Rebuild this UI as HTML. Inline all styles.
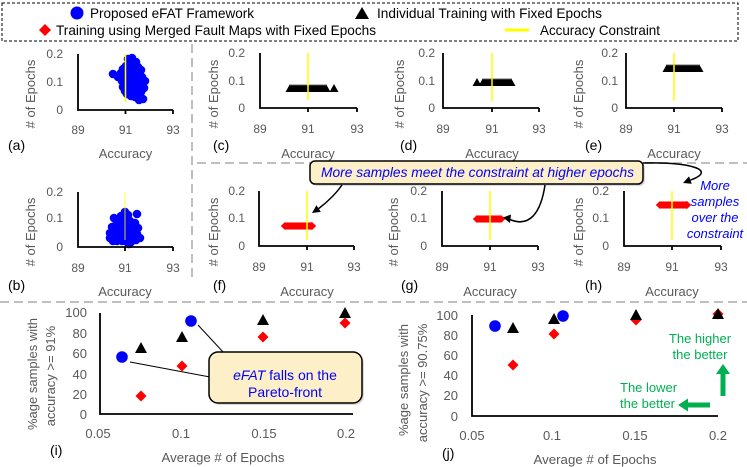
<!DOCTYPE html>
<html><head><meta charset="utf-8"><style>
html,body{margin:0;padding:0;background:#fff;}
svg{display:block;}
text{font-family:"Liberation Sans",sans-serif;}
.tk{font-size:12px;fill:#595959;}
.tk2{font-size:13px;fill:#595959;}
.ttl{font-size:13px;fill:#595959;}
.pl{font-size:14px;fill:#000;}
.ax{stroke:#000;stroke-width:1.8;fill:none;}
.sep{stroke:#bfbfbf;stroke-width:2;stroke-dasharray:9,5;fill:none;}
.yl{stroke:#ffff00;stroke-width:1.5;}
</style></head><body>
<svg width="747" height="467" viewBox="0 0 747 467" xmlns="http://www.w3.org/2000/svg">
<defs>
<path id="tri" d="M-4.5,4 L4.5,4 L0,-4Z" fill="#000"/>
<path id="dia" d="M0,-4 L4.2,0 L0,4 L-4.2,0Z" fill="#ff0000"/>
<path id="btri" d="M-6,5 L6,5 L0,-6Z" fill="#000"/>
<path id="bdia" d="M0,-5.5 L5.5,0 L0,5.5 L-5.5,0Z" fill="#ff0000"/>
</defs>

<!-- Legend -->
<rect x="2" y="3" width="736" height="38" fill="none" stroke="#000" stroke-width="1" stroke-dasharray="3,2"/>
<circle cx="77" cy="13" r="6.5" fill="#0000ff"/>
<text x="90" y="18" font-size="14" textLength="164" lengthAdjust="spacingAndGlyphs">Proposed eFAT Framework</text>
<path d="M355,19 L369,19 L362,7Z" fill="#000"/>
<text x="377" y="18" font-size="14" textLength="225" lengthAdjust="spacingAndGlyphs">Individual Training with Fixed Epochs</text>
<path d="M45,24 L51,30 L45,36 L39,30Z" fill="#ff0000"/>
<text x="56" y="35" font-size="14" textLength="320" lengthAdjust="spacingAndGlyphs">Training using Merged Fault Maps with Fixed Epochs</text>
<line x1="505" y1="30" x2="529" y2="30" stroke="#ffff00" stroke-width="3"/>
<text x="540" y="35" font-size="14" textLength="120" lengthAdjust="spacingAndGlyphs">Accuracy Constraint</text>

<!-- separators -->
<line class="sep" x1="192" y1="44" x2="192" y2="278"/>
<line class="sep" x1="197" y1="163" x2="747" y2="163"/>
<line class="sep" x1="0" y1="302" x2="747" y2="302"/>

<!-- Panel a -->
<g>
<g fill="#0000ff">
<circle cx="128" cy="59" r="4.3"/><circle cx="132" cy="58" r="4.3"/><circle cx="136" cy="62" r="4.3"/><circle cx="130" cy="63" r="4.3"/><circle cx="126" cy="66" r="4.3"/><circle cx="133" cy="66" r="4.3"/><circle cx="138" cy="67" r="4.3"/><circle cx="141" cy="70" r="4.3"/>
<circle cx="113" cy="74" r="4.3"/><circle cx="118" cy="77" r="4.3"/><circle cx="121" cy="73" r="4.3"/>
<circle cx="123" cy="69" r="4.3"/><circle cx="126" cy="71" r="4.3"/><circle cx="129" cy="70" r="4.3"/><circle cx="133" cy="72" r="4.3"/><circle cx="138" cy="74" r="4.3"/><circle cx="142" cy="77" r="4.3"/><circle cx="145" cy="81" r="4.3"/>
<circle cx="122" cy="81" r="4.3"/><circle cx="125" cy="78" r="4.3"/><circle cx="128" cy="76" r="4.3"/><circle cx="132" cy="78" r="4.3"/><circle cx="136" cy="80" r="4.3"/><circle cx="140" cy="84" r="4.3"/><circle cx="144" cy="88" r="4.3"/>
<circle cx="123" cy="87" r="4.3"/><circle cx="126" cy="84" r="4.3"/><circle cx="130" cy="84" r="4.3"/><circle cx="134" cy="86" r="4.3"/><circle cx="138" cy="89" r="4.3"/>
<circle cx="125" cy="91" r="4.3"/><circle cx="129" cy="90" r="4.3"/><circle cx="132" cy="92" r="4.3"/><circle cx="136" cy="93" r="4.3"/><circle cx="141" cy="92" r="4.3"/>
<circle cx="131" cy="96" r="4.3"/><circle cx="135" cy="97" r="4.3"/><circle cx="139" cy="100" r="4.3"/><circle cx="143" cy="99" r="4.3"/><circle cx="127" cy="94" r="4.3"/>
</g>
<line class="yl" x1="125.5" y1="54" x2="125.5" y2="102"/>
<path class="ax" d="M78,54 L78,110 L173,110 M125.5,110 L125.5,114 M173,110 L173,114"/>
<text class="tk" x="63" y="58" text-anchor="end">0.2</text>
<text class="tk" x="63" y="86" text-anchor="end">0.1</text>
<text class="tk" x="63" y="114" text-anchor="end">0</text>
<text class="tk" x="78" y="134" text-anchor="middle">89</text>
<text class="tk" x="125.5" y="134" text-anchor="middle">91</text>
<text class="tk" x="173" y="134" text-anchor="middle">93</text>
<text class="ttl" transform="translate(35,94) rotate(-90)" text-anchor="middle">#&#160;of Epochs</text>
<text class="pl" x="8" y="150">(a)</text>
<text class="ttl" x="125.5" y="158" text-anchor="middle">Accuracy</text>
</g>

<!-- Panel c -->
<g>
<g>
<use href="#tri" x="290" y="88"/><use href="#tri" x="292" y="88"/><use href="#tri" x="294" y="88"/><use href="#tri" x="296" y="88"/><use href="#tri" x="298" y="88"/><use href="#tri" x="300" y="88"/><use href="#tri" x="302" y="88"/><use href="#tri" x="304" y="88"/><use href="#tri" x="306" y="88"/><use href="#tri" x="308" y="88"/><use href="#tri" x="310" y="88"/><use href="#tri" x="312" y="88"/><use href="#tri" x="314" y="88"/><use href="#tri" x="316" y="88"/><use href="#tri" x="318" y="88"/><use href="#tri" x="320" y="88"/><use href="#tri" x="322" y="88"/><use href="#tri" x="324" y="88"/><use href="#tri" x="326" y="88"/><use href="#tri" x="334" y="88"/>
</g>
<line class="yl" x1="308" y1="53" x2="308" y2="100"/>
<path class="ax" d="M260,53 L260,108 L357,108 M308,108 L308,112 M357,108 L357,112"/>
<text class="tk" x="245" y="57" text-anchor="end">0.2</text>
<text class="tk" x="245" y="85" text-anchor="end">0.1</text>
<text class="tk" x="245" y="112" text-anchor="end">0</text>
<text class="tk" x="260" y="133" text-anchor="middle">89</text>
<text class="tk" x="308" y="133" text-anchor="middle">91</text>
<text class="tk" x="357" y="133" text-anchor="middle">93</text>
<text class="ttl" transform="translate(218,94) rotate(-90)" text-anchor="middle">#&#160;of Epochs</text>
<text class="pl" x="213" y="150">(c)</text>
<text class="ttl" x="308" y="158" text-anchor="middle">Accuracy</text>
</g>

<!-- Panel d -->
<g>
<g>
<use href="#tri" x="477" y="82"/><use href="#tri" x="483" y="82"/><use href="#tri" x="485" y="82"/><use href="#tri" x="487" y="82"/><use href="#tri" x="489" y="82"/><use href="#tri" x="491" y="82"/><use href="#tri" x="493" y="82"/><use href="#tri" x="495" y="82"/><use href="#tri" x="497" y="82"/><use href="#tri" x="499" y="82"/><use href="#tri" x="501" y="82"/><use href="#tri" x="503" y="82"/><use href="#tri" x="505" y="82"/><use href="#tri" x="507" y="82"/><use href="#tri" x="509" y="82"/><use href="#tri" x="511" y="82"/>
</g>
<line class="yl" x1="492" y1="53" x2="492" y2="101"/>
<path class="ax" d="M443,53 L443,108 L539,108 M492,108 L492,112 M539,108 L539,112"/>
<text class="tk" x="435" y="57" text-anchor="end">0.2</text>
<text class="tk" x="435" y="85" text-anchor="end">0.1</text>
<text class="tk" x="435" y="112" text-anchor="end">0</text>
<text class="tk" x="443" y="133" text-anchor="middle">89</text>
<text class="tk" x="492" y="133" text-anchor="middle">91</text>
<text class="tk" x="539" y="133" text-anchor="middle">93</text>
<text class="ttl" transform="translate(404,94) rotate(-90)" text-anchor="middle">#&#160;of Epochs</text>
<text class="pl" x="400" y="150">(d)</text>
<text class="ttl" x="492" y="158" text-anchor="middle">Accuracy</text>
</g>

<!-- Panel e -->
<g>
<g>
<use href="#tri" x="667" y="68"/><use href="#tri" x="669" y="68"/><use href="#tri" x="671" y="68"/><use href="#tri" x="673" y="68"/><use href="#tri" x="675" y="68"/><use href="#tri" x="677" y="68"/><use href="#tri" x="679" y="68"/><use href="#tri" x="681" y="68"/><use href="#tri" x="683" y="68"/><use href="#tri" x="685" y="68"/><use href="#tri" x="687" y="68"/><use href="#tri" x="689" y="68"/><use href="#tri" x="691" y="68"/><use href="#tri" x="693" y="68"/><use href="#tri" x="695" y="68"/><use href="#tri" x="697" y="68"/><use href="#tri" x="699" y="68"/>
</g>
<line class="yl" x1="674" y1="53" x2="674" y2="101"/>
<path class="ax" d="M626,53 L626,108 L722,108 M674,108 L674,112 M722,108 L722,112"/>
<text class="tk" x="618" y="57" text-anchor="end">0.2</text>
<text class="tk" x="618" y="85" text-anchor="end">0.1</text>
<text class="tk" x="618" y="112" text-anchor="end">0</text>
<text class="tk" x="626" y="133" text-anchor="middle">89</text>
<text class="tk" x="674" y="133" text-anchor="middle">91</text>
<text class="tk" x="722" y="133" text-anchor="middle">93</text>
<text class="ttl" transform="translate(583,94) rotate(-90)" text-anchor="middle">#&#160;of Epochs</text>
<text class="pl" x="585" y="150">(e)</text>
<text class="ttl" x="674" y="158" text-anchor="middle">Accuracy</text>
</g>

<!-- Panel b -->
<g>
<g fill="#0000ff">
<circle cx="125" cy="212" r="4.3"/><circle cx="121" cy="216" r="4.3"/><circle cx="128" cy="215" r="4.3"/><circle cx="114" cy="218" r="4.3"/><circle cx="137" cy="214" r="4.3"/><circle cx="119" cy="221" r="4.3"/><circle cx="124" cy="220" r="4.3"/><circle cx="130" cy="221" r="4.3"/>
<circle cx="112" cy="227" r="4.3"/><circle cx="116" cy="225" r="4.3"/><circle cx="121" cy="225" r="4.3"/><circle cx="126" cy="224" r="4.3"/><circle cx="131" cy="225" r="4.3"/><circle cx="135" cy="223" r="4.3"/><circle cx="138" cy="228" r="4.3"/>
<circle cx="110" cy="233" r="4.3"/><circle cx="114" cy="231" r="4.3"/><circle cx="119" cy="231" r="4.3"/><circle cx="124" cy="230" r="4.3"/><circle cx="129" cy="230" r="4.3"/><circle cx="133" cy="231" r="4.3"/><circle cx="137" cy="234" r="4.3"/><circle cx="140" cy="238" r="4.3"/>
<circle cx="110" cy="238" r="4.3"/><circle cx="114" cy="237" r="4.3"/><circle cx="118" cy="236" r="4.3"/><circle cx="123" cy="236" r="4.3"/><circle cx="128" cy="236" r="4.3"/><circle cx="132" cy="237" r="4.3"/><circle cx="136" cy="240" r="4.3"/>
<circle cx="113" cy="241" r="4.3"/><circle cx="117" cy="241" r="4.3"/><circle cx="122" cy="241" r="4.3"/><circle cx="127" cy="242" r="4.3"/><circle cx="131" cy="242" r="4.3"/><circle cx="129" cy="244" r="4.3"/>
</g>
<line x1="125" y1="192" x2="125" y2="240" stroke="#ffff00" stroke-width="1.5" opacity="0.55"/>
<path class="ax" d="M78,192 L78,247 L173,247 M125,247 L125,251 M173,247 L173,251"/>
<text class="tk" x="63" y="196" text-anchor="end">0.2</text>
<text class="tk" x="63" y="222" text-anchor="end">0.1</text>
<text class="tk" x="63" y="251" text-anchor="end">0</text>
<text class="tk" x="78" y="272" text-anchor="middle">89</text>
<text class="tk" x="125" y="272" text-anchor="middle">91</text>
<text class="tk" x="173" y="272" text-anchor="middle">93</text>
<text class="ttl" transform="translate(35,232) rotate(-90)" text-anchor="middle">#&#160;of Epochs</text>
<text class="pl" x="8" y="290">(b)</text>
<text class="ttl" x="125" y="296" text-anchor="middle">Accuracy</text>
</g>

<!-- Panel f -->
<g>
<g>
<use href="#dia" x="285" y="226"/><use href="#dia" x="287" y="226"/><use href="#dia" x="289" y="226"/><use href="#dia" x="291" y="226"/><use href="#dia" x="293" y="226"/><use href="#dia" x="295" y="226"/><use href="#dia" x="297" y="226"/><use href="#dia" x="299" y="226"/><use href="#dia" x="301" y="226"/><use href="#dia" x="303" y="226"/><use href="#dia" x="305" y="226"/><use href="#dia" x="307" y="226"/><use href="#dia" x="309" y="226"/><use href="#dia" x="311" y="226"/><use href="#dia" x="312" y="226"/>
</g>
<line class="yl" x1="307" y1="191" x2="307" y2="240"/>
<path class="ax" d="M259,191 L259,246 L354,246 M307,246 L307,250 M354,246 L354,250"/>
<text class="tk" x="245" y="195" text-anchor="end">0.2</text>
<text class="tk" x="245" y="222" text-anchor="end">0.1</text>
<text class="tk" x="245" y="250" text-anchor="end">0</text>
<text class="tk" x="259" y="271" text-anchor="middle">89</text>
<text class="tk" x="307" y="271" text-anchor="middle">91</text>
<text class="tk" x="354" y="271" text-anchor="middle">93</text>
<text class="ttl" transform="translate(218,232) rotate(-90)" text-anchor="middle">#&#160;of Epochs</text>
<text class="pl" x="213" y="290">(f)</text>
<text class="ttl" x="307" y="296" text-anchor="middle">Accuracy</text>
</g>

<!-- Panel g -->
<g>
<g>
<use href="#dia" x="477" y="219"/><use href="#dia" x="479" y="219"/><use href="#dia" x="481" y="219"/><use href="#dia" x="483" y="219"/><use href="#dia" x="485" y="219"/><use href="#dia" x="487" y="219"/><use href="#dia" x="489" y="219"/><use href="#dia" x="491" y="219"/><use href="#dia" x="493" y="219"/><use href="#dia" x="495" y="219"/><use href="#dia" x="497" y="219"/><use href="#dia" x="499" y="219"/><use href="#dia" x="501" y="219"/>
</g>
<line class="yl" x1="490" y1="191" x2="490" y2="240"/>
<path class="ax" d="M442,191 L442,246 L538,246 M490,246 L490,250 M538,246 L538,250"/>
<text class="tk" x="427" y="195" text-anchor="end">0.2</text>
<text class="tk" x="427" y="222" text-anchor="end">0.1</text>
<text class="tk" x="427" y="250" text-anchor="end">0</text>
<text class="tk" x="442" y="271" text-anchor="middle">89</text>
<text class="tk" x="490" y="271" text-anchor="middle">91</text>
<text class="tk" x="538" y="271" text-anchor="middle">93</text>
<text class="ttl" transform="translate(398,232) rotate(-90)" text-anchor="middle">#&#160;of Epochs</text>
<text class="pl" x="401" y="290">(g)</text>
<text class="ttl" x="490" y="296" text-anchor="middle">Accuracy</text>
</g>

<!-- Panel h -->
<g>
<g>
<use href="#dia" x="660" y="205"/><use href="#dia" x="662" y="205"/><use href="#dia" x="664" y="205"/><use href="#dia" x="666" y="205"/><use href="#dia" x="668" y="205"/><use href="#dia" x="670" y="205"/><use href="#dia" x="672" y="205"/><use href="#dia" x="674" y="205"/><use href="#dia" x="676" y="205"/><use href="#dia" x="678" y="205"/><use href="#dia" x="680" y="205"/><use href="#dia" x="682" y="205"/><use href="#dia" x="684" y="205"/><use href="#dia" x="686" y="205"/><use href="#dia" x="687" y="205"/>
</g>
<line class="yl" x1="672" y1="191" x2="672" y2="240"/>
<path class="ax" d="M624,191 L624,246 L721,246 M672,246 L672,250 M721,246 L721,250"/>
<text class="tk" x="609" y="195" text-anchor="end">0.2</text>
<text class="tk" x="609" y="222" text-anchor="end">0.1</text>
<text class="tk" x="609" y="250" text-anchor="end">0</text>
<text class="tk" x="624" y="271" text-anchor="middle">89</text>
<text class="tk" x="672" y="271" text-anchor="middle">91</text>
<text class="tk" x="721" y="271" text-anchor="middle">93</text>
<text class="ttl" transform="translate(583,232) rotate(-90)" text-anchor="middle">#&#160;of Epochs</text>
<text class="pl" x="585" y="290">(h)</text>
<text class="ttl" x="672" y="296" text-anchor="middle">Accuracy</text>
</g>

<!-- Top callout -->
<rect x="312" y="163" width="333" height="23" rx="5" fill="#bfbfbf" opacity="0.6"/>
<rect x="310" y="161" width="333" height="23" rx="5" fill="#fdf0c8" stroke="#000" stroke-width="1.5"/>
<text x="321" y="177" font-size="14" font-style="italic" fill="#0000ff" textLength="313" lengthAdjust="spacingAndGlyphs">More samples meet the constraint at higher epochs</text>
<path d="M342,185 C335,195 326,203 318.6,208.6" fill="none" stroke="#000" stroke-width="1.5"/>
<polygon points="312,213 320.8,211.9 316.4,205.3" fill="#000"/>
<path d="M545,185 C541,212 530,228 510,219.5" fill="none" stroke="#000" stroke-width="1.5"/>
<polygon points="503,217.5 511,214.5 510,223" fill="#000"/>
<path d="M643,163 C690,162 718,170 690.4,180.1" fill="none" stroke="#000" stroke-width="1.5"/>
<polygon points="683,183 691.8,183.8 689,176.4" fill="#000"/>
<g font-size="13" font-style="italic" fill="#0000ff" text-anchor="middle">
<text x="715" y="190">More</text>
<text x="715" y="206">samples</text>
<text x="715" y="222">over the</text>
<text x="715" y="238">constraint</text>
</g>

<!-- Panel i -->
<g>
<path class="ax" d="M100,313 L100,414 L353,414"/>
<text class="tk2" x="87" y="317" text-anchor="end">100</text>
<text class="tk2" x="87" y="338" text-anchor="end">80</text>
<text class="tk2" x="87" y="358" text-anchor="end">60</text>
<text class="tk2" x="87" y="379" text-anchor="end">40</text>
<text class="tk2" x="87" y="399" text-anchor="end">20</text>
<text class="tk2" x="87" y="419" text-anchor="end">0</text>
<text class="tk2" x="98" y="438" text-anchor="middle">0.05</text>
<text class="tk2" x="181" y="438" text-anchor="middle">0.1</text>
<text class="tk2" x="264" y="438" text-anchor="middle">0.15</text>
<text class="tk2" x="346" y="438" text-anchor="middle">0.2</text>
<text class="ttl" transform="translate(37,374) rotate(-90)" text-anchor="middle">%age samples with</text>
<text class="ttl" transform="translate(55,376) rotate(-90)" text-anchor="middle">accuracy &gt;= 91%</text>
<text class="pl" x="50" y="455">(i)</text>
<text class="ttl" x="223" y="462" text-anchor="middle" textLength="123" lengthAdjust="spacingAndGlyphs">Average # of Epochs</text>
<line x1="198" y1="325" x2="224" y2="353" stroke="#000" stroke-width="1"/>
<line x1="130" y1="362" x2="210" y2="377" stroke="#000" stroke-width="1"/>
<use href="#btri" x="141" y="348"/><use href="#btri" x="182" y="337"/><use href="#btri" x="263" y="320"/><use href="#btri" x="345" y="313"/>
<use href="#bdia" x="141" y="396"/><use href="#bdia" x="182" y="366"/><use href="#bdia" x="263" y="337"/><use href="#bdia" x="345" y="323"/>
<circle cx="122" cy="357" r="5.8" fill="#0000ff"/><circle cx="191" cy="321" r="5.8" fill="#0000ff"/>
<rect x="211" y="354" width="153" height="51" rx="9" fill="#bfbfbf" opacity="0.6"/>
<rect x="209" y="352" width="153" height="51" rx="9" fill="#fdf0c8" stroke="#000" stroke-width="1.5"/>
<text x="285" y="380" text-anchor="middle" font-size="14" fill="#0000ff"><tspan font-style="italic">eFAT</tspan> falls on the</text>
<text x="285" y="397" text-anchor="middle" font-size="14" fill="#0000ff">Pareto-front</text>
</g>

<!-- Panel j -->
<g>
<path class="ax" d="M472,315 L472,416 L718,416"/>
<text class="tk2" x="458" y="320" text-anchor="end">100</text>
<text class="tk2" x="458" y="340" text-anchor="end">80</text>
<text class="tk2" x="458" y="360" text-anchor="end">60</text>
<text class="tk2" x="458" y="380" text-anchor="end">40</text>
<text class="tk2" x="458" y="400" text-anchor="end">20</text>
<text class="tk2" x="458" y="421" text-anchor="end">0</text>
<text class="tk2" x="472" y="440" text-anchor="middle">0.05</text>
<text class="tk2" x="552" y="440" text-anchor="middle">0.1</text>
<text class="tk2" x="635" y="440" text-anchor="middle">0.15</text>
<text class="tk2" x="718" y="440" text-anchor="middle">0.2</text>
<text class="ttl" transform="translate(408,380) rotate(-90)" text-anchor="middle">%age samples with</text>
<text class="ttl" transform="translate(427,383) rotate(-90)" text-anchor="middle">accuracy &gt;= 90.75%</text>
<text class="pl" x="442" y="458">(j)</text>
<text class="ttl" x="595" y="464" text-anchor="middle" textLength="123" lengthAdjust="spacingAndGlyphs">Average # of Epochs</text>
<use href="#bdia" x="513" y="365"/><use href="#bdia" x="554" y="334"/><use href="#bdia" x="636" y="320"/><use href="#bdia" x="718" y="314"/>
<use href="#btri" x="513" y="328"/><use href="#btri" x="554" y="319"/><use href="#btri" x="636" y="315"/><use href="#btri" x="718" y="314"/>
<circle cx="495" cy="326" r="5.8" fill="#0000ff"/><circle cx="563" cy="316" r="5.8" fill="#0000ff"/>
<g font-size="13" fill="#00b050">
<text x="700" y="343" text-anchor="middle">The higher</text>
<text x="700" y="359" text-anchor="middle">the better</text>
<text x="620" y="392">The lower</text>
<text x="620" y="408">the better</text>
</g>
<path d="M720.5,396 L720.5,374 L716,374 L723,364 L730,374 L725.5,374 L725.5,396Z" fill="#00b050"/>
<path d="M710,402.5 L688,402.5 L688,398.5 L678,405 L688,411.5 L688,407.5 L710,407.5Z" fill="#00b050"/>
</g>
</svg>
</body></html>
